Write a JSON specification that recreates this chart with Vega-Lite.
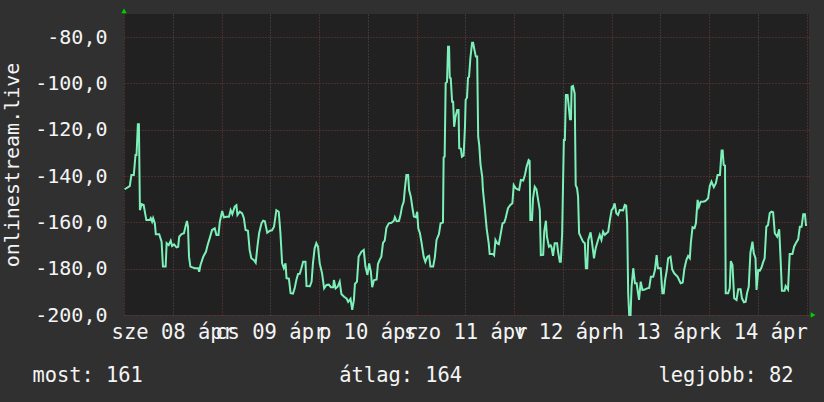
{
"$schema": "https://vega.github.io/schema/vega-lite/v6.json",
"width": 685, "height": 301,
"autosize": {"type": "none"},
"padding": {"left": 124, "top": 14, "right": 15, "bottom": 87},
"background": "#303030",
"config": {"view": {"fill": "#212121", "stroke": null}, "font": "DejaVu Sans Mono"},
"title": {"text": "most: 161\u00a0\u00a0\u00a0\u00a0\u00a0\u00a0\u00a0\u00a0\u00a0\u00a0\u00a0\u00a0\u00a0\u00a0\u00a0\u00a0átlag: 164\u00a0\u00a0\u00a0\u00a0\u00a0\u00a0\u00a0\u00a0\u00a0\u00a0\u00a0\u00a0\u00a0\u00a0\u00a0\u00a0legjobb: 82", "orient": "bottom", "anchor": "middle", "frame": "bounds", "font": "DejaVu Sans Mono", "fontSize": 20.4, "fontWeight": "normal", "color": "#f4f4f4", "offset": 23, "dx": 4},
"layer": [
{
"data": {"values": [
{"t":"2015-04-08T00:10","v":-145.7},{"t":"2015-04-08T01:25","v":-144.3},{"t":"2015-04-08T01:50","v":-139.5},{"t":"2015-04-08T02:25","v":-139.5},{"t":"2015-04-08T02:50","v":-130.9},{"t":"2015-04-08T03:05","v":-130.9},{"t":"2015-04-08T03:25","v":-117.6},{"t":"2015-04-08T03:40","v":-117.6},{"t":"2015-04-08T03:55","v":-154.7},{"t":"2015-04-08T04:20","v":-152.1},{"t":"2015-04-08T04:50","v":-152.5},{"t":"2015-04-08T05:30","v":-159},{"t":"2015-04-08T06:20","v":-159},{"t":"2015-04-08T06:35","v":-158.2},{"t":"2015-04-08T06:55","v":-159.7},{"t":"2015-04-08T07:10","v":-158.2},{"t":"2015-04-08T07:35","v":-160.4},{"t":"2015-04-08T07:50","v":-165.1},{"t":"2015-04-08T08:40","v":-165.1},{"t":"2015-04-08T09:15","v":-168.3},{"t":"2015-04-08T09:35","v":-179.1},{"t":"2015-04-08T10:15","v":-179.1},{"t":"2015-04-08T10:30","v":-169},{"t":"2015-04-08T11:00","v":-169.8},{"t":"2015-04-08T11:30","v":-167.9},{"t":"2015-04-08T11:50","v":-170.2},{"t":"2015-04-08T12:20","v":-169.5},{"t":"2015-04-08T12:55","v":-170.8},{"t":"2015-04-08T13:20","v":-170.5},{"t":"2015-04-08T13:35","v":-166.2},{"t":"2015-04-08T14:10","v":-165.1},{"t":"2015-04-08T14:45","v":-164.7},{"t":"2015-04-08T15:10","v":-161.6},{"t":"2015-04-08T15:30","v":-159.4},{"t":"2015-04-08T15:45","v":-161.9},{"t":"2015-04-08T16:00","v":-174.8},{"t":"2015-04-08T16:20","v":-179.1},{"t":"2015-04-08T17:25","v":-179.8},{"t":"2015-04-08T18:15","v":-179.8},{"t":"2015-04-08T18:30","v":-181.3},{"t":"2015-04-08T18:50","v":-178.4},{"t":"2015-04-08T19:30","v":-174.8},{"t":"2015-04-08T20:10","v":-172.7},{"t":"2015-04-08T20:35","v":-169.8},{"t":"2015-04-08T21:05","v":-166.9},{"t":"2015-04-08T21:40","v":-163.3},{"t":"2015-04-08T22:20","v":-162.6},{"t":"2015-04-08T22:45","v":-165.4},{"t":"2015-04-08T23:15","v":-165.4},{"t":"2015-04-08T23:35","v":-159.7},
{"t":"2015-04-09T00:10","v":-155.1},{"t":"2015-04-09T00:35","v":-157.8},{"t":"2015-04-09T01:15","v":-157.6},{"t":"2015-04-09T01:50","v":-157.6},{"t":"2015-04-09T02:15","v":-154.7},{"t":"2015-04-09T02:40","v":-156.4},{"t":"2015-04-09T03:15","v":-153.2},{"t":"2015-04-09T03:40","v":-152.6},{"t":"2015-04-09T03:55","v":-156.8},{"t":"2015-04-09T04:30","v":-155.4},{"t":"2015-04-09T05:05","v":-156.1},{"t":"2015-04-09T05:30","v":-158.2},{"t":"2015-04-09T05:55","v":-163.3},{"t":"2015-04-09T06:30","v":-163.6},{"t":"2015-04-09T06:55","v":-171.9},{"t":"2015-04-09T07:20","v":-175.5},{"t":"2015-04-09T08:00","v":-176.3},{"t":"2015-04-09T08:25","v":-177.4},{"t":"2015-04-09T08:50","v":-170.5},{"t":"2015-04-09T09:15","v":-164.7},{"t":"2015-04-09T09:50","v":-160.4},{"t":"2015-04-09T10:15","v":-159.3},{"t":"2015-04-09T10:40","v":-159.5},{"t":"2015-04-09T11:15","v":-164.5},{"t":"2015-04-09T11:55","v":-163.6},{"t":"2015-04-09T12:25","v":-163.4},{"t":"2015-04-09T12:55","v":-161.9},{"t":"2015-04-09T13:30","v":-154.7},{"t":"2015-04-09T14:05","v":-155.4},{"t":"2015-04-09T14:30","v":-164.7},{"t":"2015-04-09T14:55","v":-177.7},{"t":"2015-04-09T15:20","v":-179.8},{"t":"2015-04-09T15:45","v":-177.7},{"t":"2015-04-09T16:00","v":-184.1},{"t":"2015-04-09T16:35","v":-184.3},{"t":"2015-04-09T17:00","v":-190.6},{"t":"2015-04-09T17:35","v":-190.8},{"t":"2015-04-09T18:00","v":-188.5},{"t":"2015-04-09T18:25","v":-184.9},{"t":"2015-04-09T18:50","v":-182.3},{"t":"2015-04-09T19:15","v":-182.2},{"t":"2015-04-09T19:40","v":-179.8},{"t":"2015-04-09T20:05","v":-177},{"t":"2015-04-09T20:40","v":-177},{"t":"2015-04-09T20:55","v":-187.5},{"t":"2015-04-09T21:45","v":-187.6},{"t":"2015-04-09T22:10","v":-185.6},{"t":"2015-04-09T22:30","v":-177.7},{"t":"2015-04-09T22:55","v":-171.2},{"t":"2015-04-09T23:20","v":-169},{"t":"2015-04-09T23:45","v":-170.5},
{"t":"2015-04-10T00:10","v":-177.7},{"t":"2015-04-10T00:45","v":-182},{"t":"2015-04-10T01:15","v":-188.5},{"t":"2015-04-10T01:50","v":-187},{"t":"2015-04-10T02:25","v":-186.9},{"t":"2015-04-10T02:55","v":-188},{"t":"2015-04-10T03:30","v":-188},{"t":"2015-04-10T03:40","v":-184.9},{"t":"2015-04-10T04:05","v":-188.5},{"t":"2015-04-10T04:35","v":-187.8},{"t":"2015-04-10T05:05","v":-185.6},{"t":"2015-04-10T05:30","v":-190.9},{"t":"2015-04-10T06:10","v":-192.1},{"t":"2015-04-10T06:45","v":-192.8},{"t":"2015-04-10T07:10","v":-194.3},{"t":"2015-04-10T07:45","v":-193},{"t":"2015-04-10T08:10","v":-197.8},{"t":"2015-04-10T08:35","v":-193.5},{"t":"2015-04-10T08:50","v":-186.6},{"t":"2015-04-10T09:20","v":-185.6},{"t":"2015-04-10T09:45","v":-174.8},{"t":"2015-04-10T10:25","v":-172.7},{"t":"2015-04-10T11:00","v":-171.9},{"t":"2015-04-10T11:25","v":-179.1},{"t":"2015-04-10T11:55","v":-182.7},{"t":"2015-04-10T12:20","v":-177.7},{"t":"2015-04-10T12:45","v":-181.3},{"t":"2015-04-10T13:05","v":-188},{"t":"2015-04-10T13:30","v":-185},{"t":"2015-04-10T14:10","v":-184.7},{"t":"2015-04-10T14:30","v":-178},{"t":"2015-04-10T14:55","v":-176.2},{"t":"2015-04-10T15:20","v":-174.8},{"t":"2015-04-10T15:45","v":-168.8},{"t":"2015-04-10T16:10","v":-167.9},{"t":"2015-04-10T16:35","v":-162.3},{"t":"2015-04-10T17:10","v":-160.4},{"t":"2015-04-10T17:50","v":-160.2},{"t":"2015-04-10T18:25","v":-159.3},{"t":"2015-04-10T18:40","v":-157.8},{"t":"2015-04-10T19:05","v":-159.5},{"t":"2015-04-10T19:40","v":-159.4},{"t":"2015-04-10T20:05","v":-156.5},{"t":"2015-04-10T20:25","v":-153.2},{"t":"2015-04-10T20:50","v":-151.1},{"t":"2015-04-10T21:05","v":-146.3},{"t":"2015-04-10T21:30","v":-139.5},{"t":"2015-04-10T21:55","v":-139.5},{"t":"2015-04-10T22:10","v":-146},{"t":"2015-04-10T22:35","v":-148.9},{"t":"2015-04-10T23:00","v":-153.9},{"t":"2015-04-10T23:20","v":-157.5},{"t":"2015-04-10T23:50","v":-157.8},
{"t":"2015-04-11T00:10","v":-155.4},{"t":"2015-04-11T00:25","v":-162.6},{"t":"2015-04-11T00:50","v":-164.7},{"t":"2015-04-11T01:15","v":-169},{"t":"2015-04-11T01:45","v":-174.8},{"t":"2015-04-11T02:10","v":-177},{"t":"2015-04-11T02:40","v":-174.8},{"t":"2015-04-11T03:05","v":-174.4},{"t":"2015-04-11T03:25","v":-179.1},{"t":"2015-04-11T04:05","v":-179.1},{"t":"2015-04-11T04:30","v":-175.1},{"t":"2015-04-11T04:55","v":-167.6},{"t":"2015-04-11T05:30","v":-165.1},{"t":"2015-04-11T05:55","v":-160.4},{"t":"2015-04-11T06:30","v":-160.1},{"t":"2015-04-11T06:40","v":-132},{"t":"2015-04-11T06:55","v":-131.6},{"t":"2015-04-11T07:10","v":-99.9},{"t":"2015-04-11T07:30","v":-99.3},{"t":"2015-04-11T07:45","v":-84.1},{"t":"2015-04-11T08:00","v":-84.1},{"t":"2015-04-11T08:10","v":-97.5},{"t":"2015-04-11T08:25","v":-97.8},{"t":"2015-04-11T08:45","v":-107.9},{"t":"2015-04-11T09:00","v":-107.9},{"t":"2015-04-11T09:15","v":-118.7},{"t":"2015-04-11T09:35","v":-114.4},{"t":"2015-04-11T10:00","v":-111.5},{"t":"2015-04-11T10:20","v":-111.5},{"t":"2015-04-11T10:30","v":-128},{"t":"2015-04-11T10:55","v":-128.2},{"t":"2015-04-11T11:10","v":-131.6},{"t":"2015-04-11T11:35","v":-131.1},{"t":"2015-04-11T11:55","v":-118.7},{"t":"2015-04-11T12:05","v":-107.1},{"t":"2015-04-11T12:25","v":-106},{"t":"2015-04-11T12:40","v":-97.5},{"t":"2015-04-11T12:55","v":-97.1},{"t":"2015-04-11T13:15","v":-89},{"t":"2015-04-11T13:40","v":-82.4},{"t":"2015-04-11T13:55","v":-82.4},{"t":"2015-04-11T14:10","v":-84.8},{"t":"2015-04-11T14:35","v":-88.4},{"t":"2015-04-11T14:55","v":-88.4},{"t":"2015-04-11T15:10","v":-123},{"t":"2015-04-11T15:25","v":-126.4},{"t":"2015-04-11T15:45","v":-135.2},{"t":"2015-04-11T16:10","v":-140.3},{"t":"2015-04-11T16:20","v":-146},{"t":"2015-04-11T16:50","v":-154.7},{"t":"2015-04-11T17:15","v":-162.6},{"t":"2015-04-11T17:25","v":-164.7},{"t":"2015-04-11T17:45","v":-169},{"t":"2015-04-11T18:00","v":-173.7},{"t":"2015-04-11T18:50","v":-173.7},{"t":"2015-04-11T19:05","v":-174.2},{"t":"2015-04-11T19:25","v":-167.6},{"t":"2015-04-11T19:50","v":-169},{"t":"2015-04-11T20:15","v":-169.4},{"t":"2015-04-11T20:40","v":-165.4},{"t":"2015-04-11T21:10","v":-160.4},{"t":"2015-04-11T21:35","v":-160.1},{"t":"2015-04-11T21:55","v":-158.2},{"t":"2015-04-11T22:30","v":-153.9},{"t":"2015-04-11T23:05","v":-152.5},{"t":"2015-04-11T23:35","v":-151.7},{"t":"2015-04-11T23:55","v":-143.9},
{"t":"2015-04-12T00:25","v":-145.3},{"t":"2015-04-12T00:50","v":-145.7},{"t":"2015-04-12T01:15","v":-146},{"t":"2015-04-12T01:40","v":-141.7},{"t":"2015-04-12T02:15","v":-141.9},{"t":"2015-04-12T02:40","v":-139.5},{"t":"2015-04-12T03:05","v":-135.9},{"t":"2015-04-12T03:35","v":-133.1},{"t":"2015-04-12T03:50","v":-133.5},{"t":"2015-04-12T04:00","v":-159},{"t":"2015-04-12T04:25","v":-159},{"t":"2015-04-12T04:40","v":-149.6},{"t":"2015-04-12T05:05","v":-144.6},{"t":"2015-04-12T05:30","v":-145.7},{"t":"2015-04-12T05:55","v":-150.3},{"t":"2015-04-12T06:20","v":-154.7},{"t":"2015-04-12T06:35","v":-174.1},{"t":"2015-04-12T07:10","v":-174},{"t":"2015-04-12T07:25","v":-164},{"t":"2015-04-12T07:50","v":-159.3},{"t":"2015-04-12T08:05","v":-166.2},{"t":"2015-04-12T08:35","v":-170.5},{"t":"2015-04-12T09:00","v":-169.9},{"t":"2015-04-12T09:15","v":-171},{"t":"2015-04-12T09:35","v":-174.5},{"t":"2015-04-12T10:00","v":-169},{"t":"2015-04-12T10:35","v":-169},{"t":"2015-04-12T10:50","v":-172.7},{"t":"2015-04-12T11:15","v":-177},{"t":"2015-04-12T11:30","v":-177},{"t":"2015-04-12T11:50","v":-164.7},{"t":"2015-04-12T12:15","v":-124.4},{"t":"2015-04-12T12:30","v":-124.4},{"t":"2015-04-12T12:45","v":-105},{"t":"2015-04-12T13:10","v":-105},{"t":"2015-04-12T13:25","v":-109.3},{"t":"2015-04-12T13:45","v":-115.5},{"t":"2015-04-12T14:00","v":-115.5},{"t":"2015-04-12T14:10","v":-101.4},{"t":"2015-04-12T14:30","v":-101.1},{"t":"2015-04-12T14:55","v":-104.3},{"t":"2015-04-12T15:10","v":-143.9},{"t":"2015-04-12T15:30","v":-145.3},{"t":"2015-04-12T15:45","v":-148.9},{"t":"2015-04-12T16:00","v":-164.7},{"t":"2015-04-12T16:35","v":-166.9},{"t":"2015-04-12T17:00","v":-168.4},{"t":"2015-04-12T17:25","v":-169},{"t":"2015-04-12T17:40","v":-179.8},{"t":"2015-04-12T18:00","v":-179.8},{"t":"2015-04-12T18:15","v":-167.6},{"t":"2015-04-12T18:50","v":-164.3},{"t":"2015-04-12T19:10","v":-168.4},{"t":"2015-04-12T19:40","v":-175.5},{"t":"2015-04-12T20:05","v":-171.2},{"t":"2015-04-12T20:40","v":-167.6},{"t":"2015-04-12T21:05","v":-165.4},{"t":"2015-04-12T21:30","v":-167.6},{"t":"2015-04-12T21:55","v":-164},{"t":"2015-04-12T22:20","v":-165.4},{"t":"2015-04-12T22:45","v":-164.7},{"t":"2015-04-12T23:10","v":-164},{"t":"2015-04-12T23:35","v":-159},
{"t":"2015-04-13T00:00","v":-154.7},{"t":"2015-04-13T00:20","v":-154},{"t":"2015-04-13T00:45","v":-151.8},{"t":"2015-04-13T01:10","v":-156.1},{"t":"2015-04-13T01:35","v":-156.8},{"t":"2015-04-13T02:00","v":-154.7},{"t":"2015-04-13T02:50","v":-154.8},{"t":"2015-04-13T03:15","v":-152.5},{"t":"2015-04-13T03:35","v":-152.8},{"t":"2015-04-13T03:50","v":-160.4},{"t":"2015-04-13T04:05","v":-190.6},{"t":"2015-04-13T04:20","v":-200},{"t":"2015-04-13T04:40","v":-200},{"t":"2015-04-13T04:55","v":-187.8},{"t":"2015-04-13T05:20","v":-179.8},{"t":"2015-04-13T05:45","v":-186.3},{"t":"2015-04-13T06:10","v":-186.3},{"t":"2015-04-13T06:30","v":-190.6},{"t":"2015-04-13T06:45","v":-193.5},{"t":"2015-04-13T07:10","v":-185.6},{"t":"2015-04-13T07:35","v":-189.2},{"t":"2015-04-13T08:10","v":-189},{"t":"2015-04-13T08:45","v":-188.5},{"t":"2015-04-13T09:15","v":-188.3},{"t":"2015-04-13T09:40","v":-183.5},{"t":"2015-04-13T10:15","v":-183.5},{"t":"2015-04-13T10:40","v":-180.6},{"t":"2015-04-13T11:05","v":-174.1},{"t":"2015-04-13T11:25","v":-179.8},{"t":"2015-04-13T12:05","v":-179.8},{"t":"2015-04-13T12:30","v":-190.6},{"t":"2015-04-13T12:50","v":-190.6},{"t":"2015-04-13T13:10","v":-184.9},{"t":"2015-04-13T13:35","v":-180.6},{"t":"2015-04-13T13:55","v":-175.5},{"t":"2015-04-13T14:30","v":-174.8},{"t":"2015-04-13T14:55","v":-180.3},{"t":"2015-04-13T15:25","v":-182},{"t":"2015-04-13T16:15","v":-183.5},{"t":"2015-04-13T17:00","v":-186.3},{"t":"2015-04-13T17:30","v":-186},{"t":"2015-04-13T17:55","v":-180},{"t":"2015-04-13T18:25","v":-176.2},{"t":"2015-04-13T18:50","v":-174.5},{"t":"2015-04-13T19:15","v":-175.5},{"t":"2015-04-13T19:30","v":-169},{"t":"2015-04-13T19:55","v":-162.1},{"t":"2015-04-13T20:25","v":-162.5},{"t":"2015-04-13T20:45","v":-160.4},{"t":"2015-04-13T21:10","v":-150.3},{"t":"2015-04-13T21:30","v":-153.2},{"t":"2015-04-13T21:55","v":-151.1},{"t":"2015-04-13T22:30","v":-151.1},{"t":"2015-04-13T23:05","v":-150.8},{"t":"2015-04-13T23:45","v":-149.6},
{"t":"2015-04-14T00:10","v":-144.3},{"t":"2015-04-14T00:35","v":-142.4},{"t":"2015-04-14T01:10","v":-144.8},{"t":"2015-04-14T01:40","v":-143.1},{"t":"2015-04-14T02:05","v":-139.5},{"t":"2015-04-14T02:40","v":-139.5},{"t":"2015-04-14T03:05","v":-129},{"t":"2015-04-14T03:20","v":-129},{"t":"2015-04-14T03:35","v":-135.2},{"t":"2015-04-14T03:55","v":-135.5},{"t":"2015-04-14T04:05","v":-190.6},{"t":"2015-04-14T04:40","v":-190.6},{"t":"2015-04-14T05:05","v":-188.5},{"t":"2015-04-14T05:20","v":-176.7},{"t":"2015-04-14T05:45","v":-178.4},{"t":"2015-04-14T06:10","v":-192.8},{"t":"2015-04-14T06:45","v":-193.5},{"t":"2015-04-14T07:10","v":-188.9},{"t":"2015-04-14T07:45","v":-188.9},{"t":"2015-04-14T08:05","v":-192.8},{"t":"2015-04-14T08:35","v":-194.5},{"t":"2015-04-14T09:00","v":-194.3},{"t":"2015-04-14T09:20","v":-190.6},{"t":"2015-04-14T09:45","v":-187.8},{"t":"2015-04-14T10:10","v":-173.1},{"t":"2015-04-14T10:40","v":-168.3},{"t":"2015-04-14T11:00","v":-173.4},{"t":"2015-04-14T11:25","v":-175.5},{"t":"2015-04-14T11:40","v":-189.2},{"t":"2015-04-14T12:05","v":-180.6},{"t":"2015-04-14T12:30","v":-180.8},{"t":"2015-04-14T12:55","v":-179.4},{"t":"2015-04-14T13:15","v":-177.4},{"t":"2015-04-14T13:40","v":-175.5},{"t":"2015-04-14T14:05","v":-161.9},{"t":"2015-04-14T14:30","v":-161.1},{"t":"2015-04-14T14:55","v":-156.1},{"t":"2015-04-14T15:20","v":-155.4},{"t":"2015-04-14T15:45","v":-155.6},{"t":"2015-04-14T16:10","v":-164.7},{"t":"2015-04-14T16:45","v":-166.2},{"t":"2015-04-14T17:15","v":-163},{"t":"2015-04-14T17:35","v":-175.5},{"t":"2015-04-14T17:55","v":-189.5},{"t":"2015-04-14T18:35","v":-189.5},{"t":"2015-04-14T18:50","v":-187.5},{"t":"2015-04-14T19:25","v":-189},{"t":"2015-04-14T19:50","v":-173.7},{"t":"2015-04-14T20:30","v":-173.7},{"t":"2015-04-14T20:55","v":-170.5},{"t":"2015-04-14T21:20","v":-169},{"t":"2015-04-14T21:55","v":-167.3},{"t":"2015-04-14T22:20","v":-161.9},{"t":"2015-04-14T22:45","v":-161.9},{"t":"2015-04-14T23:10","v":-156.5},{"t":"2015-04-14T23:35","v":-156.5},{"t":"2015-04-14T23:50","v":-161.1},{"t":"2015-04-15T00:05","v":-161.1}
]},
"mark": {"type": "line", "color": "#7cf0b8", "strokeWidth": 2},
"encoding": {
"x": {"field": "t", "type": "temporal",
 "scale": {"domain": [{"year": 2015, "month": 4, "date": 8, "hours": 0}, {"year": 2015, "month": 4, "date": 15, "hours": 0, "minutes": 35}], "nice": false},
 "axis": {
  "values": [
   {"year":2015,"month":4,"date":8,"hours":0},{"year":2015,"month":4,"date":8,"hours":6},{"year":2015,"month":4,"date":8,"hours":12},{"year":2015,"month":4,"date":8,"hours":18},
   {"year":2015,"month":4,"date":9,"hours":0},{"year":2015,"month":4,"date":9,"hours":6},{"year":2015,"month":4,"date":9,"hours":12},{"year":2015,"month":4,"date":9,"hours":18},
   {"year":2015,"month":4,"date":10,"hours":0},{"year":2015,"month":4,"date":10,"hours":6},{"year":2015,"month":4,"date":10,"hours":12},{"year":2015,"month":4,"date":10,"hours":18},
   {"year":2015,"month":4,"date":11,"hours":0},{"year":2015,"month":4,"date":11,"hours":6},{"year":2015,"month":4,"date":11,"hours":12},{"year":2015,"month":4,"date":11,"hours":18},
   {"year":2015,"month":4,"date":12,"hours":0},{"year":2015,"month":4,"date":12,"hours":6},{"year":2015,"month":4,"date":12,"hours":12},{"year":2015,"month":4,"date":12,"hours":18},
   {"year":2015,"month":4,"date":13,"hours":0},{"year":2015,"month":4,"date":13,"hours":6},{"year":2015,"month":4,"date":13,"hours":12},{"year":2015,"month":4,"date":13,"hours":18},
   {"year":2015,"month":4,"date":14,"hours":0},{"year":2015,"month":4,"date":14,"hours":6},{"year":2015,"month":4,"date":14,"hours":12},{"year":2015,"month":4,"date":14,"hours":18},
   {"year":2015,"month":4,"date":15,"hours":0}
  ],
  "grid": true,
  "gridColor": {"condition": {"test": "hours(datum.value) == 0", "value": "#7a3838"}, "value": "#555555"},
  "gridDash": [1, 2], "gridWidth": 1,
  "ticks": false, "domain": false,
  "labelExpr": "hours(datum.value) == 12 ? (date(datum.value) == 8 ? 'sze 08 ápr' : date(datum.value) == 9 ? 'cs 09 ápr' : date(datum.value) == 10 ? 'p 10 ápr' : date(datum.value) == 11 ? 'szo 11 ápr' : date(datum.value) == 12 ? 'v 12 ápr' : date(datum.value) == 13 ? 'h 13 ápr' : 'k 14 ápr') : ''",
  "labelOverlap": false, "labelFlush": false, "labelBound": false, "labelAngle": 0,
  "labelFont": "DejaVu Sans Mono", "labelFontSize": 20.5, "labelColor": "#f4f4f4", "labelPadding": 7,
  "title": null
 }
},
"y": {"field": "v", "type": "quantitative",
 "scale": {"domain": [-200, -70], "nice": false, "zero": false},
 "axis": {
  "values": [-200,-195,-190,-185,-180,-175,-170,-165,-160,-155,-150,-145,-140,-135,-130,-125,-120,-115,-110,-105,-100,-95,-90,-85,-80,-75,-70],
  "grid": true,
  "gridColor": {"condition": {"test": "datum.value % 20 == 0", "value": "#7a3838"}, "value": "#555555"},
  "gridDash": [1, 2], "gridWidth": 1,
  "ticks": false, "domain": false,
  "labelExpr": "datum.value % 20 == 0 ? datum.value + ',0' : ''",
  "labelOverlap": false, "labelFlush": false, "labelBound": false,
  "labelFont": "DejaVu Sans Mono", "labelFontSize": 20, "labelColor": "#f4f4f4", "labelPadding": 17,
  "title": "onlinestream.live",
  "titleFont": "DejaVu Sans Mono", "titleFontSize": 20, "titleFontWeight": "normal", "titleColor": "#f4f4f4",
  "titleX": -105.5, "titleY": 150.5, "titleBaseline": "alphabetic", "titleAngle": 270, "titleAlign": "center"
 }
}
}
},
{
"data": {"values": [
{"t":"2015-04-08T00:00","v":-68.7,"dir":"y"},
{"t":"2015-04-15T01:35","v":-200,"dir":"x"}
]},
"mark": {"type": "point", "filled": true, "size": 30, "color": "#00d000", "opacity": 1},
"encoding": {
"x": {"field": "t", "type": "temporal"},
"y": {"field": "v", "type": "quantitative"},
"shape": {"field": "dir", "type": "nominal", "scale": {"domain": ["y", "x"], "range": ["triangle-up", "triangle-right"]}, "legend": null}
}
}
]
}
